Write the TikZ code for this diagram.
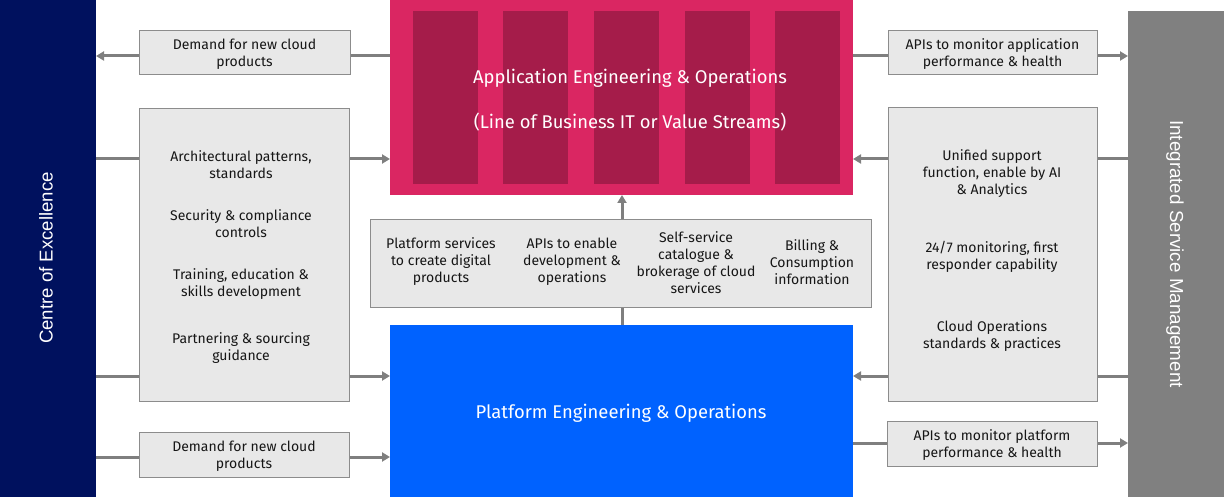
\documentclass[tikz,border=0pt]{standalone}
\usepackage{fontspec}
\setmainfont{Fira Sans}
\newfontfamily\barfont{Liberation Sans}
\usepackage{tikz}
\usetikzlibrary{arrows.meta}
\usetikzlibrary{positioning}

\definecolor{coeblue}{RGB}{0,17,94}
\definecolor{appred}{RGB}{218,38,98}
\definecolor{appdark}{RGB}{165,28,74}
\definecolor{platblue}{RGB}{0,98,255}
\definecolor{ismgray}{RGB}{128,128,128}
\definecolor{boxfill}{RGB}{232,232,232}
\definecolor{boxline}{RGB}{140,140,140}
\definecolor{flowgray}{RGB}{127,127,127}
\definecolor{ink}{RGB}{22,22,22}

\begin{document}
\begin{tikzpicture}[x=1pt,y=-1pt]
	\tikzstyle{band}=[inner sep=0pt, outer sep=0pt, draw=none]
	\tikzstyle{box}=[draw=boxline, fill=boxfill, line width=1pt, inner sep=0pt, outer sep=0pt]
	\tikzstyle{txt}=[align=center, text=ink, font=\fontsize{14}{17}\selectfont, inner sep=0pt, yshift=-1.5pt]
	\tikzstyle{big}=[align=center, text=white, font=\fontsize{18.4}{22}\selectfont, inner sep=0pt, yshift=-2pt]
	\tikzstyle{flow}=[draw=flowgray, line width=3pt, -{Triangle[length=8pt,width=9pt]}]
	\useasboundingbox (0,0) rectangle (1224,497);
	% side bars
	\node[band, fill=coeblue, minimum width=96pt, minimum height=497pt] (coe) at (48, 248.5) {};
	\node[band, fill=ismgray, minimum width=96pt, minimum height=486pt] (ism) at (1176, 254) {};
	\node[rotate=90, text=white, font=\barfont\fontsize{18.6}{22}\selectfont] (coelbl) at (46, 258) {Centre of Excellence};
	\node[rotate=-90, text=white, font=\barfont\fontsize{18.8}{22}\selectfont] (ismlbl) at (1175, 254) {Integrated Service Management};
	% application and platform blocks
	\node[band, fill=appred, minimum width=463pt, minimum height=195pt] (app) at (621.5, 97.5) {};
	\foreach \sx in {445.5, 535.5, 626.5, 717.5, 807.5}
		\node[band, fill=appdark, minimum width=65pt, minimum height=173pt] at (\sx, 97.5) {};
	\node[big] (apptitle) at (630, 76) {Application Engineering \& Operations};
	\node[big] (appsub) at (630, 120) {(Line of Business IT or Value Streams)};
	\node[band, fill=platblue, minimum width=463pt, minimum height=172pt] (plat) at (621.5, 411) {};
	\node[big] (plattitle) at (621, 411) {Platform Engineering \& Operations};
	% rows for the connectors
	\coordinate (rowa) at (0, 56);
	\coordinate (rowb) at (0, 159);
	\coordinate (rowc) at (0, 376);
	\coordinate (rowd) at (0, 457);
	\coordinate (rowe) at (0, 443);
	\coordinate (mid) at (622, 0);
	% connectors, under the boxes
	\draw[flow] (plat.north -| mid) -- (app.south -| mid);
	\draw[flow] (app.west |- rowa) -- (coe.east |- rowa);
	\draw[flow] (coe.east |- rowb) -- (app.west |- rowb);
	\draw[flow] (coe.east |- rowc) -- (plat.west |- rowc);
	\draw[flow] (coe.east |- rowd) -- (plat.west |- rowd);
	\draw[flow] (app.east |- rowa) -- (ism.west |- rowa);
	\draw[flow] (ism.west |- rowb) -- (app.east |- rowb);
	\draw[flow] (ism.west |- rowc) -- (plat.east |- rowc);
	\draw[flow] (plat.east |- rowe) -- (ism.west |- rowe);
	% shared services
	\node[box, minimum width=501pt, minimum height=87pt] (svc) at (620.5, 263.5) {};
	\node[txt] (svca) at (441, 260) {Platform services\\to create digital\\products};
	\node[txt] (svcb) at (572, 260) {APIs to enable\\development \&\\operations};
	\node[txt] (svcc) at (696, 261.5) {Self-service\\catalogue \&\\brokerage of cloud\\services};
	\node[txt] (svcd) at (812, 261) {Billing \&\\Consumption\\information};
	% centre of excellence side
	\node[box, minimum width=211pt, minimum height=44pt] (dmdapp) at (244.5, 53) {};
	\node[txt] at (dmdapp) {Demand for new cloud\\products};
	\node[box, minimum width=210pt, minimum height=292pt] (guide) at (244, 255) {};
	\node[txt] (guidea) at (241, 163) {Architectural patterns,\\standards};
	\node[txt] (guideb) at (241, 222) {Security \& compliance\\controls};
	\node[txt] (guidec) at (241, 282.5) {Training, education \&\\skills development};
	\node[txt] (guided) at (241, 346.5) {Partnering \& sourcing\\guidance};
	\node[box, minimum width=210pt, minimum height=45pt] (dmdplat) at (244, 454.5) {};
	\node[txt] at (dmdplat) {Demand for new cloud\\products};
	% service management side
	\node[box, minimum width=209pt, minimum height=44pt] (apiapp) at (992.5, 53) {};
	\node[txt] at (apiapp) {APIs to monitor application\\performance \& health};
	\node[box, minimum width=209pt, minimum height=293pt] (ops) at (992.5, 254.5) {};
	\node[txt] (opsa) at (992, 172) {Unified support\\function, enable by AI\\\& Analytics};
	\node[txt] (opsb) at (992, 255.5) {24/7 monitoring, first\\responder capability};
	\node[txt] (opsc) at (992, 334.5) {Cloud Operations\\standards \& practices};
	\node[box, minimum width=210pt, minimum height=45pt] (apiplat) at (992, 443.5) {};
	\node[txt] at (apiplat) {APIs to monitor platform\\performance \& health};
\end{tikzpicture}
\end{document}
